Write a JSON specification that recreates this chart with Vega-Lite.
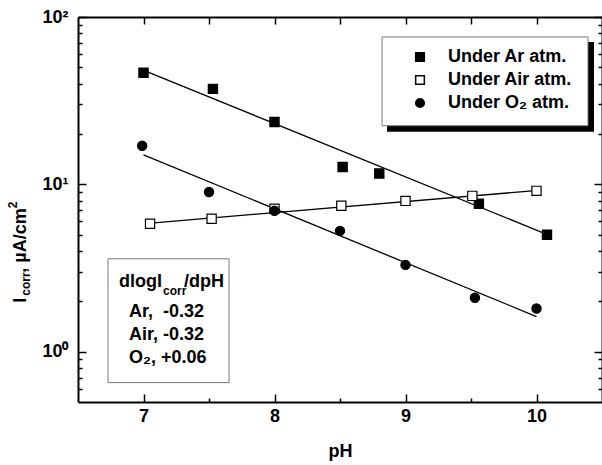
{
  "$schema": "https://vega.github.io/schema/vega-lite/v6.json",
  "width": 524,
  "height": 385,
  "autosize": "none",
  "padding": {"left": 78, "top": 17, "right": 0, "bottom": 63},
  "background": "white",
  "datasets": {
    "points": [
      {"series": "Ar", "pH": 7.0, "icorr": 46.4},
      {"series": "Ar", "pH": 7.53, "icorr": 37.2},
      {"series": "Ar", "pH": 8.0, "icorr": 23.6},
      {"series": "Ar", "pH": 8.52, "icorr": 12.7},
      {"series": "Ar", "pH": 8.8, "icorr": 11.6},
      {"series": "Ar", "pH": 9.56, "icorr": 7.66},
      {"series": "Ar", "pH": 10.08, "icorr": 5.0},
      {"series": "Air", "pH": 7.05, "icorr": 5.81},
      {"series": "Air", "pH": 7.52, "icorr": 6.22},
      {"series": "Air", "pH": 8.0, "icorr": 7.14},
      {"series": "Air", "pH": 8.51, "icorr": 7.45},
      {"series": "Air", "pH": 9.0, "icorr": 7.96},
      {"series": "Air", "pH": 9.51, "icorr": 8.53},
      {"series": "Air", "pH": 10.0, "icorr": 9.14},
      {"series": "O₂", "pH": 6.99, "icorr": 17.0},
      {"series": "O₂", "pH": 7.5, "icorr": 9.0},
      {"series": "O₂", "pH": 8.0, "icorr": 6.95},
      {"series": "O₂", "pH": 8.5, "icorr": 5.27},
      {"series": "O₂", "pH": 9.0, "icorr": 3.3},
      {"series": "O₂", "pH": 9.53, "icorr": 2.1},
      {"series": "O₂", "pH": 10.0, "icorr": 1.81}
    ],
    "fits": [
      {"series": "Ar", "pH": 7.03, "icorr": 47.0},
      {"series": "Ar", "pH": 10.05, "icorr": 5.13},
      {"series": "Air", "pH": 7.08, "icorr": 5.89},
      {"series": "Air", "pH": 9.97, "icorr": 9.14},
      {"series": "O₂", "pH": 7.0, "icorr": 15.0},
      {"series": "O₂", "pH": 10.0, "icorr": 1.62}
    ]
  },
  "resolve": {"axis": {"x": "independent", "y": "independent"}},
  "layer": [
    {
      "data": {"values": [{}]},
      "mark": {"type": "rect", "fill": "black"},
      "encoding": {
        "x": {"datum": 8.859, "type": "quantitative", "scale": {"domain": [6.5, 10.5], "nice": false, "zero": false},
          "axis": {"orient": "bottom", "offset": -385, "values": [7, 7.5, 8, 8.5, 9, 9.5, 10], "tickSize": 7, "labels": false, "domain": true, "title": null}},
        "x2": {"datum": 10.439},
        "y": {"datum": 70.9, "type": "quantitative", "scale": {"type": "log", "domain": [0.5, 100], "nice": false},
          "axis": {"orient": "left", "offset": -524, "values": [1, 10, 100], "tickSize": 8, "labels": false, "domain": true, "title": null}},
        "y2": {"datum": 20.6}
      }
    },
    {
      "data": {"values": [{}]},
      "mark": {"type": "rect", "fill": "white", "stroke": "#7a7a7a", "strokeWidth": 1},
      "encoding": {
        "x": {"datum": 8.821, "type": "quantitative", "scale": {"domain": [6.5, 10.5], "nice": false, "zero": false},
          "axis": {"orient": "top", "offset": -385, "values": [7, 8, 9, 10], "tickSize": 8, "labels": false, "domain": true, "title": null}},
        "x2": {"datum": 10.393},
        "y": {"datum": 76.0, "type": "quantitative", "scale": {"type": "log", "domain": [0.5, 100], "nice": false},
          "axis": {"orient": "right", "offset": -524, "values": [1, 10, 100], "tickSize": 8, "labels": false, "domain": true, "title": null}},
        "y2": {"datum": 22.4}
      }
    },
    {
      "data": {"values": [{}]},
      "mark": {"type": "rect", "fill": "white", "stroke": "#7a7a7a", "strokeWidth": 1},
      "encoding": {
        "x": {"datum": 6.729, "type": "quantitative", "scale": {"domain": [6.5, 10.5], "nice": false, "zero": false},
          "axis": {"orient": "top", "offset": -385, "values": [7.5, 8.5, 9.5], "tickSize": 4, "labels": false, "domain": false, "title": null}},
        "x2": {"datum": 7.653},
        "y": {"datum": 3.59, "type": "quantitative", "scale": {"type": "log", "domain": [0.5, 100], "nice": false},
          "axis": {"orient": "right", "offset": -524, "values": [0.6, 0.7, 0.8, 0.9, 2, 3, 4, 5, 6, 7, 8, 9, 20, 30, 40, 50, 60, 70, 80, 90], "tickSize": 4, "labels": false, "domain": false, "title": null}},
        "y2": {"datum": 0.653}
      }
    },
    {
      "data": {"name": "fits"},
      "mark": {"type": "line", "color": "black", "strokeWidth": 1.3},
      "encoding": {
        "x": {"field": "pH", "type": "quantitative", "scale": {"domain": [6.5, 10.5], "nice": false, "zero": false}, "axis": null},
        "y": {"field": "icorr", "type": "quantitative", "scale": {"type": "log", "domain": [0.5, 100], "nice": false},
          "axis": {"orient": "left", "offset": -524, "values": [0.6, 0.7, 0.8, 0.9, 2, 3, 4, 5, 6, 7, 8, 9, 20, 30, 40, 50, 60, 70, 80, 90], "tickSize": 4, "labels": false, "domain": false, "title": null}},
        "detail": {"field": "series"}
      }
    },
    {
      "data": {"name": "points"},
      "mark": {"type": "point", "filled": true, "stroke": "black", "strokeWidth": 1.2, "size": 85, "opacity": 1},
      "encoding": {
        "x": {"field": "pH", "type": "quantitative", "scale": {"domain": [6.5, 10.5], "nice": false, "zero": false},
          "axis": {"orient": "bottom", "values": [7, 8, 9, 10], "ticks": false, "domain": false, "labelPadding": 5, "title": "pH", "titlePadding": 17}},
        "y": {"field": "icorr", "type": "quantitative", "scale": {"type": "log", "domain": [0.5, 100], "nice": false},
          "axis": {"orient": "left", "values": [1, 10, 100], "ticks": false, "domain": false, "labelPadding": 10, "title": null,
            "labelExpr": "datum.value == 100 ? '10²' : datum.value == 10 ? '10¹' : '10⁰'"}},
        "shape": {"field": "series", "type": "nominal", "scale": {"domain": ["Ar", "Air", "O₂"], "range": ["square", "square", "circle"]},
          "legend": {"orient": "none", "legendX": 333, "legendY": 31, "title": null, "padding": 0, "labelFont": "Liberation Sans", "labelFontSize": 18, "labelFontWeight": "bold", "labelColor": "black", "labelOffset": 19, "rowPadding": 5, "symbolSize": 75,
            "labelExpr": "'Under ' + datum.label + ' atm.'",
            "encode": {"symbols": {"update": {"stroke": {"value": "black"}, "strokeWidth": {"value": 1.2}}}}}},
        "fill": {"field": "series", "type": "nominal", "scale": {"domain": ["Ar", "Air", "O₂"], "range": ["black", "white", "black"]},
          "legend": {"orient": "none", "legendX": 333, "legendY": 31, "title": null, "padding": 0, "labelFont": "Liberation Sans", "labelFontSize": 18, "labelFontWeight": "bold", "labelColor": "black", "labelOffset": 19, "rowPadding": 5, "symbolSize": 75,
            "labelExpr": "'Under ' + datum.label + ' atm.'",
            "encode": {"symbols": {"update": {"stroke": {"value": "black"}, "strokeWidth": {"value": 1.2}}}}}}
      }
    },
    {
      "data": {"values": [{}]},
      "mark": {"type": "text", "text": "dlogI", "align": "left", "baseline": "alphabetic", "fontSize": 18},
      "encoding": {
        "x": {"datum": 6.813, "type": "quantitative", "scale": {"domain": [6.5, 10.5], "nice": false, "zero": false}, "axis": null},
        "y": {"datum": 2.443, "type": "quantitative", "scale": {"type": "log", "domain": [0.5, 100], "nice": false}, "axis": null}
      }
    },
    {
      "data": {"values": [{}]},
      "mark": {"type": "text", "text": "corr", "align": "left", "baseline": "alphabetic", "fontSize": 12},
      "encoding": {
        "x": {"datum": 7.149, "type": "quantitative", "scale": {"domain": [6.5, 10.5], "nice": false, "zero": false}, "axis": null},
        "y": {"datum": 2.189, "type": "quantitative", "scale": {"type": "log", "domain": [0.5, 100], "nice": false}, "axis": null}
      }
    },
    {
      "data": {"values": [{}]},
      "mark": {"type": "text", "text": "/dpH", "align": "left", "baseline": "alphabetic", "fontSize": 18},
      "encoding": {
        "x": {"datum": 7.309, "type": "quantitative", "scale": {"domain": [6.5, 10.5], "nice": false, "zero": false}, "axis": null},
        "y": {"datum": 2.443, "type": "quantitative", "scale": {"type": "log", "domain": [0.5, 100], "nice": false}, "axis": null}
      }
    },
    {
      "data": {"values": [{}]},
      "mark": {"type": "text", "text": ["Ar,\u00a0 -0.32", "Air, -0.32", "O₂, +0.06"], "align": "left", "baseline": "alphabetic", "fontSize": 18, "lineHeight": 23},
      "encoding": {
        "x": {"datum": 6.889, "type": "quantitative", "scale": {"domain": [6.5, 10.5], "nice": false, "zero": false}, "axis": null},
        "y": {"datum": 1.607, "type": "quantitative", "scale": {"type": "log", "domain": [0.5, 100], "nice": false}, "axis": null}
      }
    },
    {
      "data": {"values": [{}]},
      "mark": {"type": "text", "text": "I", "align": "left", "baseline": "alphabetic", "fontSize": 18, "angle": 270},
      "encoding": {
        "x": {"datum": 6.103, "type": "quantitative", "scale": {"domain": [6.5, 10.5], "nice": false, "zero": false}, "axis": null},
        "y": {"datum": 1.961, "type": "quantitative", "scale": {"type": "log", "domain": [0.5, 100], "nice": false}, "axis": null}
      }
    },
    {
      "data": {"values": [{}]},
      "mark": {"type": "text", "text": "corr", "align": "left", "baseline": "alphabetic", "fontSize": 12, "angle": 270},
      "encoding": {
        "x": {"datum": 6.137, "type": "quantitative", "scale": {"domain": [6.5, 10.5], "nice": false, "zero": false}, "axis": null},
        "y": {"datum": 2.159, "type": "quantitative", "scale": {"type": "log", "domain": [0.5, 100], "nice": false}, "axis": null}
      }
    },
    {
      "data": {"values": [{}]},
      "mark": {"type": "text", "text": ", µA/cm", "align": "left", "baseline": "alphabetic", "fontSize": 18, "angle": 270},
      "encoding": {
        "x": {"datum": 6.103, "type": "quantitative", "scale": {"domain": [6.5, 10.5], "nice": false, "zero": false}, "axis": null},
        "y": {"datum": 2.962, "type": "quantitative", "scale": {"type": "log", "domain": [0.5, 100], "nice": false}, "axis": null}
      }
    },
    {
      "data": {"values": [{}]},
      "mark": {"type": "text", "text": "2", "align": "left", "baseline": "alphabetic", "fontSize": 12, "angle": 270},
      "encoding": {
        "x": {"datum": 6.035, "type": "quantitative", "scale": {"domain": [6.5, 10.5], "nice": false, "zero": false}, "axis": null},
        "y": {"datum": 7.2, "type": "quantitative", "scale": {"type": "log", "domain": [0.5, 100], "nice": false}, "axis": null}
      }
    }
  ],
  "config": {
    "view": {"stroke": null},
    "axis": {"grid": false, "domainColor": "black", "domainWidth": 2, "tickColor": "black", "tickWidth": 1.5,
      "labelFont": "Liberation Sans", "labelFontSize": 18, "labelFontWeight": "bold", "labelColor": "black",
      "titleFont": "Liberation Sans", "titleFontSize": 18, "titleFontWeight": "bold", "titleColor": "black"},
    "text": {"font": "Liberation Sans", "fontWeight": "bold", "fontSize": 18, "color": "black"}
  }
}
